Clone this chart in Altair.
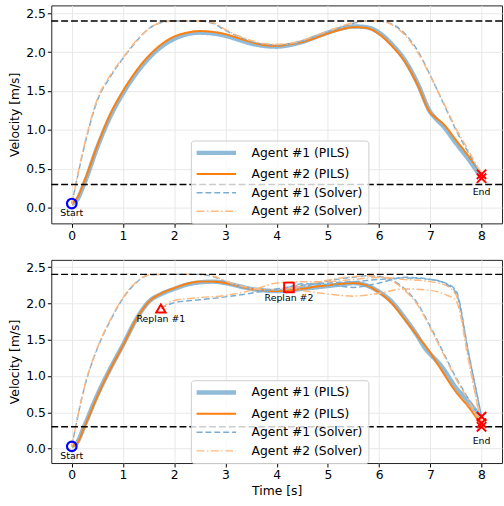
import altair as alt
import pandas as pd

SERIES = ["Agent #1 (PILS)", "Agent #2 (PILS)", "Agent #1 (Solver)", "Agent #2 (Solver)"]
COLORS = ["#8fbbd9", "#ff7f0e", "#79add2", "#ffb880"]
DASHES = [[1, 0], [1, 0], [6, 3], [8, 2.5, 1.5, 2.5]]
WIDTHS = [4.5, 2, 1.5, 1.5]
LIMITS = [2.4, 0.3]
X_TICKS = [0, 1, 2, 3, 4, 5, 6, 7, 8]
Y_TICKS = [0.0, 0.5, 1.0, 1.5, 2.0, 2.5]

# ---------------- top panel ----------------
TOP_PILS_T = [0, 0.1, 0.25, 0.5, 0.75, 1.0, 1.25, 1.5, 1.75, 2.0, 2.25, 2.5, 2.75, 3.0, 3.25, 3.5,
              3.75, 4.0, 4.25, 4.5, 4.75, 5.0, 5.25, 5.5, 5.75, 6.0, 6.25, 6.5, 6.75, 7.0, 7.1, 7.25,
              7.5, 7.75, 8.0]
TOP_PILS1_V = [0.05, 0.1, 0.32, 0.78, 1.17, 1.47, 1.72, 1.92, 2.07, 2.17, 2.23, 2.25, 2.24, 2.21,
               2.16, 2.11, 2.08, 2.07, 2.09, 2.13, 2.19, 2.25, 2.3, 2.33, 2.32, 2.25, 2.1, 1.9, 1.6,
               1.23, 1.15, 1.05, 0.83, 0.62, 0.38]
TOP_PILS2_V = [0.05, 0.12, 0.35, 0.8, 1.2, 1.5, 1.75, 1.95, 2.1, 2.2, 2.25, 2.27, 2.26, 2.23, 2.18,
               2.13, 2.09, 2.08, 2.1, 2.13, 2.18, 2.24, 2.29, 2.32, 2.31, 2.23, 2.08, 1.88, 1.58,
               1.22, 1.16, 1.08, 0.87, 0.66, 0.43]
TOP_SOLVER_T = [0, 0.25, 0.5, 0.75, 1.0, 1.25, 1.5, 1.75, 2.0, 2.25, 2.5, 2.75, 3.0, 3.25, 3.5,
                3.75, 4.0, 4.25, 4.5, 4.75, 5.0, 5.25, 5.5, 5.75, 6.0, 6.25, 6.5, 6.75, 7.0, 7.25,
                7.5, 7.75, 8.0]
TOP_SOLVER1_V = [0.05, 0.8, 1.38, 1.68, 1.92, 2.13, 2.3, 2.38, 2.4, 2.4, 2.4, 2.37, 2.28, 2.2,
                 2.14, 2.1, 2.09, 2.1, 2.14, 2.2, 2.26, 2.32, 2.37, 2.4, 2.4, 2.36, 2.24, 2.02, 1.7,
                 1.35, 1.0, 0.7, 0.4]
TOP_SOLVER2_V = [0.05, 0.82, 1.4, 1.7, 1.93, 2.14, 2.3, 2.38, 2.4, 2.4, 2.4, 2.38, 2.29, 2.21,
                 2.15, 2.11, 2.1, 2.11, 2.15, 2.21, 2.27, 2.33, 2.38, 2.4, 2.4, 2.35, 2.22, 2.0,
                 1.69, 1.36, 1.02, 0.73, 0.43]
TOP_START_V = [0.055]
TOP_END_V = [0.43, 0.38]

# ---------------- bottom panel ----------------
BOT_PILS_T = [0, 0.1, 0.25, 0.5, 0.75, 1.0, 1.25, 1.5, 1.75, 2.0, 2.25, 2.5, 2.75, 3.0, 3.25, 3.5,
              3.75, 4.0, 4.25, 4.5, 4.75, 5.0, 5.25, 5.5, 5.75, 6.0, 6.25, 6.5, 6.75, 6.9, 7.0, 7.2,
              7.5, 7.75, 8.0]
BOT_PILS1_V = [0.03, 0.08, 0.32, 0.74, 1.1, 1.43, 1.77, 2.02, 2.13, 2.2, 2.26, 2.29, 2.3, 2.28,
               2.24, 2.2, 2.18, 2.17, 2.18, 2.2, 2.22, 2.24, 2.26, 2.28, 2.25, 2.16, 2.02, 1.8,
               1.55, 1.38, 1.3, 1.15, 0.84, 0.64, 0.42]
BOT_PILS2_V = [0.03, 0.07, 0.3, 0.72, 1.09, 1.42, 1.77, 2.02, 2.14, 2.21, 2.27, 2.3, 2.3, 2.28,
               2.24, 2.2, 2.18, 2.17, 2.18, 2.2, 2.23, 2.25, 2.27, 2.28, 2.25, 2.15, 2.0, 1.78,
               1.55, 1.42, 1.32, 1.1, 0.78, 0.57, 0.32]
BOT_PLAN_A_T = [0, 0.25, 0.5, 0.75, 1.0, 1.25, 1.5, 1.75, 2.0, 2.25, 2.5, 2.75, 3.0, 3.25, 3.5,
                3.75, 4.0, 4.25, 4.5, 4.75, 5.0, 5.25, 5.5, 5.75, 6.0, 6.25, 6.5, 6.75, 7.0, 7.25,
                7.5, 7.75, 8.0]
BOT_PLAN_A1_V = [0.03, 0.85, 1.38, 1.76, 2.07, 2.28, 2.39, 2.4, 2.4, 2.4, 2.4, 2.37, 2.3, 2.24,
                 2.2, 2.18, 2.18, 2.2, 2.23, 2.27, 2.31, 2.34, 2.36, 2.38, 2.37, 2.32, 2.2, 2.0,
                 1.68, 1.33, 0.98, 0.68, 0.4]
BOT_PLAN_A2_V = [0.03, 0.86, 1.39, 1.77, 2.08, 2.29, 2.39, 2.4, 2.4, 2.4, 2.4, 2.38, 2.31, 2.25,
                 2.21, 2.19, 2.19, 2.21, 2.24, 2.28, 2.32, 2.35, 2.37, 2.38, 2.37, 2.31, 2.18,
                 1.98, 1.66, 1.31, 0.96, 0.66, 0.34]
BOT_PLAN_B_T = [1.74, 2.0, 2.5, 3.0, 3.5, 4.0, 4.5, 5.0, 5.5, 6.0, 6.5, 7.0, 7.3, 7.5, 7.75, 8.0]
BOT_PLAN_B1_V = [1.93, 2.01, 2.05, 2.09, 2.14, 2.2, 2.25, 2.28, 2.3, 2.33, 2.35, 2.33, 2.28, 2.18,
                 1.3, 0.44]
BOT_PLAN_B2_V = [1.93, 2.04, 2.08, 2.11, 2.18, 2.28, 2.3, 2.3, 2.33, 2.36, 2.33, 2.3, 2.25, 2.12,
                 1.25, 0.3]
BOT_PLAN_C_T = [4.24, 4.5, 5.0, 5.5, 6.0, 6.5, 7.0, 7.3, 7.5, 7.75, 8.0]
BOT_PLAN_C1_V = [2.22, 2.27, 2.26, 2.22, 2.28, 2.36, 2.33, 2.27, 2.15, 1.3, 0.44]
BOT_PLAN_C2_V = [2.22, 2.18, 2.13, 2.1, 2.14, 2.2, 2.18, 2.12, 2.04, 1.2, 0.3]
BOT_START_V = [0.03]
BOT_END_V = [0.44, 0.35, 0.3]
REPLAN1 = (1.74, 1.93)
REPLAN2 = (4.24, 2.22)

FONT = "DejaVu Sans"


def lines_df(entries):
    rows = []
    for series, seg, ts, vs in entries:
        for t, v in zip(ts, vs):
            rows.append({"series": series, "seg": seg, "t": t, "v": v})
    return pd.DataFrame(rows)


top_df = lines_df([
    (SERIES[0], "p1", TOP_PILS_T, TOP_PILS1_V),
    (SERIES[1], "p2", TOP_PILS_T, TOP_PILS2_V),
    (SERIES[2], "s1", TOP_SOLVER_T, TOP_SOLVER1_V),
    (SERIES[3], "s2", TOP_SOLVER_T, TOP_SOLVER2_V),
])
bot_df = lines_df([
    (SERIES[0], "p1", BOT_PILS_T, BOT_PILS1_V),
    (SERIES[1], "p2", BOT_PILS_T, BOT_PILS2_V),
    (SERIES[2], "a1", BOT_PLAN_A_T, BOT_PLAN_A1_V),
    (SERIES[3], "a2", BOT_PLAN_A_T, BOT_PLAN_A2_V),
    (SERIES[2], "b1", BOT_PLAN_B_T, BOT_PLAN_B1_V),
    (SERIES[3], "b2", BOT_PLAN_B_T, BOT_PLAN_B2_V),
    (SERIES[2], "c1", BOT_PLAN_C_T, BOT_PLAN_C1_V),
    (SERIES[3], "c2", BOT_PLAN_C_T, BOT_PLAN_C2_V),
])

XS = alt.Scale(domain=[-0.4, 8.4], nice=False, zero=False)
YS = alt.Scale(domain=[-0.2, 2.6], nice=False, zero=False)
X_MARK = "M-1,-1L1,1M-1,1L1,-1"
LEGEND_LINE = "M-1.34,0L6.66,0"


def panel(df, start_v, end_v, height, legend_y, x_title, replans):
    if x_title:
        xenc = alt.X("t:Q", scale=XS, axis=alt.Axis(values=X_TICKS, format="d"), title=x_title)
    else:
        xenc = alt.X("t:Q", scale=XS, axis=alt.Axis(values=X_TICKS, format="d"), title=None)
    yenc = alt.Y("v:Q", scale=YS, axis=alt.Axis(values=Y_TICKS, format=".1f"),
                 title="Velocity [m/s]")

    leg = alt.Legend(orient="none", legendX=141.5, legendY=legend_y, title=None,
                     symbolType=LEGEND_LINE, symbolSize=100, labelFontSize=12.5, labelFont=FONT,
                     labelColor="#000", padding=5, fillColor="rgba(255,255,255,0.8)",
                     strokeColor="#cccccc", cornerRadius=3, rowPadding=5.8, labelOffset=41.6,
                     symbolOpacity=1)

    limits = alt.Chart(pd.DataFrame({"v": LIMITS})).mark_rule(
        color="#000", strokeDash=[7, 3], strokeWidth=1.5
    ).encode(y=alt.Y("v:Q", scale=YS))

    lines = alt.Chart(df).mark_line(interpolate="monotone").encode(
        x=xenc, y=yenc,
        color=alt.Color("series:N", scale=alt.Scale(domain=SERIES, range=COLORS), legend=leg),
        strokeDash=alt.StrokeDash("series:N",
                                  scale=alt.Scale(type="ordinal", domain=SERIES, range=DASHES),
                                  legend=leg),
        strokeWidth=alt.StrokeWidth("series:N",
                                    scale=alt.Scale(type="ordinal", domain=SERIES, range=WIDTHS),
                                    legend=leg),
        detail="seg:N",
        order="t:Q",
    )

    start_df = pd.DataFrame({"t": [0] * len(start_v), "v": start_v, "lab": ["Start"]})
    end_df = pd.DataFrame({"t": [8] * len(end_v), "v": end_v})
    end_lab = pd.DataFrame({"t": [8], "v": [min(end_v)], "lab": ["End"]})

    start = alt.Chart(start_df).mark_point(shape="circle", filled=False, color="#0000ff",
                                           strokeWidth=2.2, size=95, opacity=1).encode(
        x=alt.X("t:Q", scale=XS), y=alt.Y("v:Q", scale=YS))
    start_t = alt.Chart(start_df).mark_text(dy=10, fontSize=9.5, font=FONT, color="#000",
                                            baseline="middle", align="center").encode(
        x=alt.X("t:Q", scale=XS), y=alt.Y("v:Q", scale=YS), text="lab:N")
    end = alt.Chart(end_df).mark_point(shape=X_MARK, filled=False, color="#ff0000",
                                       strokeWidth=2, size=90, opacity=1).encode(
        x=alt.X("t:Q", scale=XS), y=alt.Y("v:Q", scale=YS))
    end_t = alt.Chart(end_lab).mark_text(dy=14, fontSize=9.5, font=FONT, color="#000",
                                         baseline="middle", align="center").encode(
        x=alt.X("t:Q", scale=XS), y=alt.Y("v:Q", scale=YS), text="lab:N")

    layers = [lines, limits, start, start_t, end, end_t]
    for (pt, shape, lab, size) in replans:
        rdf = pd.DataFrame({"t": [pt[0]], "v": [pt[1]], "lab": [lab]})
        layers.append(alt.Chart(rdf).mark_point(shape=shape, filled=False, color="#ff0000",
                                                strokeWidth=2, size=size, opacity=1).encode(
            x=alt.X("t:Q", scale=XS), y=alt.Y("v:Q", scale=YS)))
        layers.append(alt.Chart(rdf).mark_text(dy=10.5, fontSize=9.5, font=FONT, color="#000",
                                               baseline="middle", align="center").encode(
            x=alt.X("t:Q", scale=XS), y=alt.Y("v:Q", scale=YS), text="lab:N"))

    return alt.layer(*layers).properties(width=457, height=height)


top = panel(top_df, TOP_START_V, TOP_END_V, 221, 137, None, [])
bottom = panel(bot_df, BOT_START_V, BOT_END_V, 206, 122, "Time [s]",
               [(REPLAN1, "triangle-up", "Replan #1", 90), (REPLAN2, "square", "Replan #2", 95)])

chart = alt.vconcat(top, bottom, spacing=17).resolve_legend(
    color="independent", strokeDash="independent", strokeWidth="independent"
).resolve_scale(
    color="independent", strokeDash="independent", strokeWidth="independent"
).properties(
    padding={"left": 8, "top": 1, "right": 0, "bottom": 0}
).configure_view(
    stroke="#222", strokeWidth=1
).configure_axis(
    domain=False, grid=True, gridColor="#e8e8e8", gridWidth=1, tickColor="#000", tickSize=4,
    tickWidth=1, labelFont=FONT, labelFontSize=12.5, labelColor="#000", labelPadding=2,
    titleFont=FONT, titleFontSize=12.5, titleFontWeight="normal", titleColor="#000",
    titlePadding=4
).configure_axisX(titlePadding=3)

chart.save("out.html", embed_options={"renderer": "svg", "actions": False})
